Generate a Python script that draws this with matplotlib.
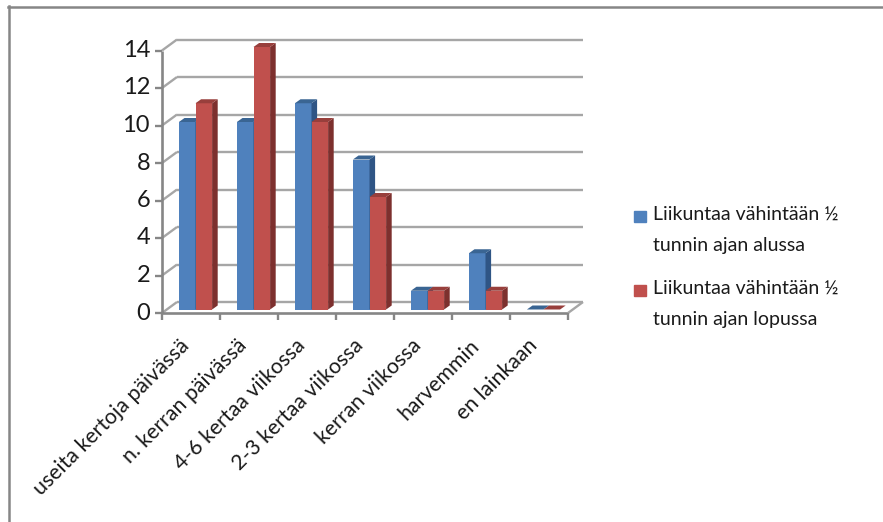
import matplotlib
matplotlib.use('Agg')
import matplotlib.pyplot as plt
from matplotlib.patches import Polygon, Rectangle

plt.rcParams['font.family'] = ['Lato', 'DejaVu Sans']

categories = ['useita kertoja päivässä', 'n. kerran päivässä', '4-6 kertaa viikossa',
              '2-3 kertaa viikossa', 'kerran viikossa', 'harvemmin', 'en lainkaan']
alussa = [10, 10, 11, 8, 1, 3, 0]
lopussa = [11, 14, 10, 6, 1, 1, 0]
series_names = ['Liikuntaa vähintään ½\ntunnin ajan alussa',
                'Liikuntaa vähintään ½\ntunnin ajan lopussa']
series_colors = ['#4f81bd', '#c0504d']
y_ticks = [0, 2, 4, 6, 8, 10, 12, 14]

W, H = 883, 522
fig = plt.figure(figsize=(W / 100, H / 100), dpi=100)
# plot box in pixels: front floor edge 162..568, value 0..14 at y 313..50.5
ax = fig.add_axes([162 / W, 1 - 313 / H, 406 / W, 262.5 / H])
ax.set_xlim(0, 7)
ax.set_ylim(0, 14)
ax.axis('off')

px_x = 7 / 406
px_y = 14 / 262.5
wall_dx, wall_dy = 15 * px_x, 11 * px_y      # depth of the back wall
bar_dx, bar_dy = 5.6 * px_x, 4 * px_y        # depth of one bar
shift_x, shift_y = 4.5 * px_x, 3.5 * px_y    # bars stand inside the floor
bar_w = 16.6 * px_x

axis_col = '#868686'
grid_col = '#a6a6a6'
text_col = '#1a1a1a'


def line(xs, ys, col=axis_col, lw=1.7, z=1):
    ax.plot(xs, ys, color=col, lw=lw, clip_on=False, zorder=z, solid_capstyle='butt')


# back wall gridlines and their diagonals on the left wall
for t in y_ticks:
    line([wall_dx, 7 + wall_dx], [t + wall_dy, t + wall_dy], grid_col)
    line([0, wall_dx], [t, t + wall_dy], grid_col)
    line([-7 * px_x, 0], [t, t], axis_col)
    ax.text(-12 * px_x, t, str(t), ha='right', va='center', fontsize=17, color=text_col)

# floor and axes
line([0, 0], [0, 14], axis_col, 1.9)
line([0, 7], [0, 0], axis_col, 1.9)
line([7, 7 + wall_dx], [0, wall_dy], grid_col)
for i in range(8):
    line([i, i], [0, -7 * px_y], axis_col)


def bar3d(x, v, front, side, top, z):
    x0 = x + shift_x
    y0 = shift_y
    ax.bar(x0, v, bar_w, bottom=y0, align='edge', color=front, zorder=z, clip_on=False)
    ax.add_patch(Polygon([(x0 + bar_w, y0), (x0 + bar_w + bar_dx, y0 + bar_dy),
                          (x0 + bar_w + bar_dx, y0 + v + bar_dy), (x0 + bar_w, y0 + v)],
                         closed=True, fc=side, ec='none', zorder=z, clip_on=False))
    ax.add_patch(Polygon([(x0, y0 + v), (x0 + bar_w, y0 + v),
                          (x0 + bar_w + bar_dx, y0 + v + bar_dy), (x0 + bar_dx, y0 + v + bar_dy)],
                         closed=True, fc=top, ec='none', zorder=z, clip_on=False))


z = 3
for i in range(len(categories)):
    left = i + 0.5 - bar_w
    bar3d(left, alussa[i], series_colors[0], '#2f5585', '#3a6593', z)
    bar3d(left + bar_w, lopussa[i], series_colors[1], '#7d302e', '#983f3c', z + 1)
    z += 2
    ax.text(i + 0.29, -1.2, categories[i], rotation=45, rotation_mode='anchor',
            ha='right', va='top', fontsize=15.3, color=text_col, clip_on=False)

# legend entries: swatch beside the first line of each two-line name
for name, col, y_first in zip(series_names, series_colors, [216, 290]):
    fig.add_artist(Rectangle((634 / W, 1 - (y_first + 5.5) / H), 12 / W, 11 / H,
                             color=col, transform=fig.transFigure))
    fig.text(653 / W, 1 - (y_first - 10) / H, name, ha='left', va='top', fontsize=14,
             linespacing=2.0, color=text_col)

# chart frame, only top and left edges are visible
fig.add_artist(plt.Line2D([8 / W, 1], [1 - 7 / H, 1 - 7 / H], color=axis_col, lw=1.8))
fig.add_artist(plt.Line2D([8.7 / W, 8.7 / W], [0, 1 - 6 / H], color=axis_col, lw=1.8))

fig.savefig('out.png', dpi=100)
